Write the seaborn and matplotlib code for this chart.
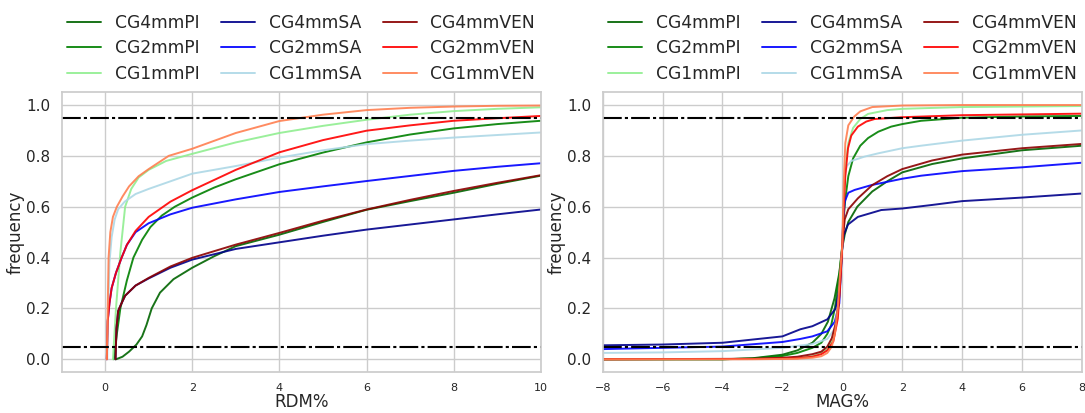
import numpy as np
import pandas as pd
import matplotlib
matplotlib.use('Agg')
import matplotlib.pyplot as plt
import seaborn as sns

# Подписи серий (порядок легенды)
labels = ['CG4mmPI', 'CG2mmPI', 'CG1mmPI',
          'CG4mmSA', 'CG2mmSA', 'CG1mmSA',
          'CG4mmVEN', 'CG2mmVEN', 'CG1mmVEN']
colors = ['darkgreen', 'green', 'lightgreen',
          'darkblue', 'blue', 'lightblue',
          'darkred', 'red', 'coral']

# ---- RDM% (левый график) ----
rdm_x_cg4pi = [0.25, 0.4, 0.55, 0.72, 0.85, 0.95, 1.07, 1.26, 1.57, 2.0, 2.5, 3.0, 4, 5, 6, 7, 8, 9, 10]
rdm_y_cg4pi = [0.0, 0.01, 0.03, 0.058, 0.09, 0.135, 0.2, 0.262, 0.315, 0.36, 0.405, 0.445, 0.49, 0.54, 0.588, 0.622, 0.655, 0.69, 0.722]
rdm_x_cg2pi = [0.2, 0.27, 0.35, 0.5, 0.65, 0.85, 1.04, 1.3, 1.6, 2.0, 2.5, 3.0, 4, 5, 6, 7, 8, 9, 10]
rdm_y_cg2pi = [0.0, 0.1, 0.2, 0.31, 0.4, 0.47, 0.52, 0.565, 0.6, 0.636, 0.675, 0.708, 0.767, 0.813, 0.853, 0.884, 0.908, 0.925, 0.938]
rdm_x_cg1pi = [0.18, 0.25, 0.35, 0.46, 0.6, 0.77, 1.0, 1.4, 2.0, 3.0, 4, 5, 6, 7, 8, 9, 10]
rdm_y_cg1pi = [0.0, 0.2, 0.42, 0.6, 0.67, 0.715, 0.745, 0.78, 0.808, 0.853, 0.89, 0.918, 0.942, 0.962, 0.976, 0.985, 0.991]
rdm_x_cg4sa = [0.24, 0.26, 0.3, 0.35, 0.46, 0.7, 1.0, 1.5, 2, 3, 4, 5, 6, 7, 8, 9, 10]
rdm_y_cg4sa = [0.0, 0.12, 0.19, 0.21, 0.25, 0.29, 0.318, 0.36, 0.392, 0.434, 0.46, 0.486, 0.51, 0.53, 0.55, 0.57, 0.589]
rdm_x_cg2sa = [0.04, 0.06, 0.1, 0.15, 0.25, 0.38, 0.5, 0.7, 1.0, 1.5, 2, 3, 4, 5, 6, 7, 8, 9, 10]
rdm_y_cg2sa = [0.0, 0.15, 0.22, 0.28, 0.34, 0.4, 0.45, 0.5, 0.535, 0.57, 0.596, 0.629, 0.658, 0.68, 0.701, 0.721, 0.741, 0.757, 0.771]
rdm_x_cg1sa = [0.05, 0.07, 0.1, 0.15, 0.22, 0.3, 0.45, 0.7, 1.0, 1.5, 2.0, 3.0, 4, 5, 6, 7, 8, 9, 10]
rdm_y_cg1sa = [0.0, 0.2, 0.38, 0.48, 0.55, 0.59, 0.62, 0.65, 0.67, 0.7, 0.73, 0.76, 0.793, 0.822, 0.846, 0.86, 0.872, 0.882, 0.892]
rdm_x_cg4ven = [0.24, 0.26, 0.3, 0.35, 0.46, 0.7, 1.0, 1.5, 2, 3, 4, 5, 6, 7, 8, 9, 10]
rdm_y_cg4ven = [0.0, 0.12, 0.19, 0.21, 0.25, 0.29, 0.32, 0.365, 0.399, 0.451, 0.497, 0.545, 0.589, 0.627, 0.662, 0.694, 0.724]
rdm_x_cg2ven = [0.04, 0.06, 0.1, 0.15, 0.25, 0.38, 0.5, 0.7, 1.0, 1.5, 2, 3, 4, 5, 6, 7, 8, 9, 10]
rdm_y_cg2ven = [0.0, 0.15, 0.22, 0.28, 0.34, 0.4, 0.45, 0.505, 0.56, 0.62, 0.665, 0.745, 0.814, 0.862, 0.899, 0.92, 0.938, 0.948, 0.957]
rdm_x_cg1ven = [0.04, 0.06, 0.08, 0.12, 0.18, 0.27, 0.4, 0.55, 0.77, 1.0, 1.46, 2.0, 3.0, 4, 5, 6, 7, 8, 9, 10]
rdm_y_cg1ven = [0.0, 0.2, 0.4, 0.5, 0.56, 0.6, 0.64, 0.68, 0.72, 0.748, 0.8, 0.828, 0.89, 0.937, 0.962, 0.98, 0.989, 0.994, 0.997, 0.998]

# ---- MAG% (правый график) ----
mag_x_cg4pi = [-8, -4, -3, -2, -1.5, -1, -0.7, -0.48, -0.26, -0.1, 0, 0.08, 0.2, 0.5, 1, 1.5, 2, 3, 4, 6, 8]
mag_y_cg4pi = [0.0, 0.0, 0.004, 0.018, 0.035, 0.065, 0.1, 0.148, 0.24, 0.34, 0.44, 0.49, 0.54, 0.6, 0.66, 0.7, 0.735, 0.768, 0.79, 0.822, 0.84]
mag_x_cg2pi = [-8, -4, -3, -2, -1.5, -1, -0.7, -0.5, -0.37, -0.25, -0.1, 0, 0.05, 0.1, 0.2, 0.36, 0.6, 0.86, 1.2, 1.63, 2, 2.63, 4, 6, 8]
mag_y_cg2pi = [0.0, 0.0, 0.003, 0.013, 0.025, 0.045, 0.065, 0.1, 0.135, 0.2, 0.33, 0.45, 0.56, 0.63, 0.72, 0.79, 0.84, 0.87, 0.895, 0.915, 0.925, 0.938, 0.95, 0.955, 0.957]
mag_x_cg1pi = [-8, -3, -1.5, -1, -0.7, -0.5, -0.3, -0.15, -0.07, 0, 0.05, 0.1, 0.2, 0.36, 0.6, 0.86, 1.5, 2, 4, 8]
mag_y_cg1pi = [0.0, 0.001, 0.005, 0.012, 0.025, 0.04, 0.08, 0.18, 0.3, 0.45, 0.62, 0.75, 0.85, 0.91, 0.945, 0.965, 0.98, 0.985, 0.992, 0.996]
mag_x_cg4sa = [-8, -6, -4, -2, -1.4, -1, -0.5, -0.22, -0.1, 0, 0.05, 0.19, 0.52, 1.3, 2, 3, 4, 6, 8]
mag_y_cg4sa = [0.055, 0.058, 0.065, 0.09, 0.118, 0.13, 0.157, 0.2, 0.28, 0.44, 0.49, 0.53, 0.56, 0.587, 0.593, 0.607, 0.622, 0.636, 0.652]
mag_x_cg2sa = [-8, -6, -4, -2, -1.4, -1, -0.5, -0.25, -0.1, 0, 0.03, 0.08, 0.2, 0.41, 0.97, 2, 2.63, 4, 6, 8]
mag_y_cg2sa = [0.04, 0.045, 0.05, 0.068, 0.08, 0.09, 0.11, 0.148, 0.22, 0.45, 0.55, 0.62, 0.655, 0.666, 0.685, 0.71, 0.722, 0.74, 0.755, 0.773]
mag_x_cg1sa = [-8, -6, -4, -2, -1, -0.5, -0.25, -0.1, 0, 0.03, 0.08, 0.15, 0.3, 0.74, 1.2, 2, 2.63, 4, 6, 8]
mag_y_cg1sa = [0.025, 0.027, 0.032, 0.045, 0.06, 0.08, 0.12, 0.25, 0.45, 0.6, 0.72, 0.76, 0.78, 0.797, 0.81, 0.83, 0.84, 0.86, 0.883, 0.9]
mag_x_cg4ven = [-8, -3, -2, -1.5, -1, -0.7, -0.5, -0.35, -0.2, -0.1, 0, 0.08, 0.2, 0.52, 1, 1.5, 2, 3, 4, 6, 8]
mag_y_cg4ven = [0.0, 0.002, 0.006, 0.01, 0.02, 0.03, 0.05, 0.083, 0.15, 0.25, 0.45, 0.55, 0.59, 0.633, 0.685, 0.72, 0.748, 0.782, 0.805, 0.83, 0.847]
mag_x_cg2ven = [-8, -3, -1.5, -1, -0.7, -0.5, -0.3, -0.15, -0.07, 0, 0.05, 0.1, 0.19, 0.3, 0.52, 0.8, 1.08, 2, 4, 6, 8]
mag_y_cg2ven = [0.0, 0.001, 0.004, 0.01, 0.02, 0.035, 0.07, 0.16, 0.3, 0.45, 0.6, 0.72, 0.83, 0.88, 0.915, 0.935, 0.945, 0.952, 0.96, 0.963, 0.966]
mag_x_cg1ven = [-8, -3, -1.5, -1, -0.7, -0.5, -0.35, -0.25, -0.15, -0.08, 0, 0.05, 0.1, 0.2, 0.4, 0.6, 1, 2, 4, 8]
mag_y_cg1ven = [0.0, 0.0, 0.002, 0.006, 0.012, 0.025, 0.05, 0.1, 0.2, 0.33, 0.45, 0.7, 0.85, 0.92, 0.955, 0.975, 0.992, 0.998, 1.0, 1.0]

rdm_series = [(rdm_x_cg4pi, rdm_y_cg4pi), (rdm_x_cg2pi, rdm_y_cg2pi), (rdm_x_cg1pi, rdm_y_cg1pi),
              (rdm_x_cg4sa, rdm_y_cg4sa), (rdm_x_cg2sa, rdm_y_cg2sa), (rdm_x_cg1sa, rdm_y_cg1sa),
              (rdm_x_cg4ven, rdm_y_cg4ven), (rdm_x_cg2ven, rdm_y_cg2ven), (rdm_x_cg1ven, rdm_y_cg1ven)]
mag_series = [(mag_x_cg4pi, mag_y_cg4pi), (mag_x_cg2pi, mag_y_cg2pi), (mag_x_cg1pi, mag_y_cg1pi),
              (mag_x_cg4sa, mag_y_cg4sa), (mag_x_cg2sa, mag_y_cg2sa), (mag_x_cg1sa, mag_y_cg1sa),
              (mag_x_cg4ven, mag_y_cg4ven), (mag_x_cg2ven, mag_y_cg2ven), (mag_x_cg1ven, mag_y_cg1ven)]

# Пороговые линии
thresholds = [0.05, 0.95]

sns.set_theme(style='whitegrid')
plt.rcParams['font.family'] = ['DejaVu Sans']

fig, axs = plt.subplots(1, 2, figsize=(10.85, 4.13), dpi=100)
fig.subplots_adjust(left=0.0567, right=0.9972, bottom=0.0993, top=0.7765, wspace=0.129)

panels = [(axs[0], rdm_series, 'RDM%', (-1, 10), np.arange(0, 11, 2)),
          (axs[1], mag_series, 'MAG%', (-8, 8), np.arange(-8, 9, 2))]

for ax, series, xlabel, xlim, xticks in panels:
    for (xs, ys), lab, col in zip(series, labels, colors):
        df = pd.DataFrame({'x': xs, 'y': ys})
        sns.lineplot(data=df, x='x', y='y', ax=ax, color=col, label=lab,
                     linewidth=1.4, alpha=0.9)
    for t in thresholds:
        ax.axhline(t, color='black', linewidth=1.5,
                   linestyle=(0, (9, 1.5, 1.5, 1.5)))
    ax.set_xlim(*xlim)
    ax.set_ylim(-0.05, 1.05)
    ax.set_xticks(xticks)
    ax.set_yticks(np.arange(0, 1.01, 0.2))
    ax.tick_params(axis='x', labelsize=8, pad=2)
    ax.tick_params(axis='y', labelsize=11, pad=2)
    ax.set_xlabel(xlabel, fontsize=12, labelpad=0)
    ax.set_ylabel('frequency', fontsize=12, labelpad=1)
    ax.legend(loc='lower center', bbox_to_anchor=(0.5, 1.004), ncol=3, frameon=False,
              fontsize=12.3, columnspacing=1.25, borderaxespad=0.1, labelspacing=0.42)

plt.savefig('out.png', dpi=100)
